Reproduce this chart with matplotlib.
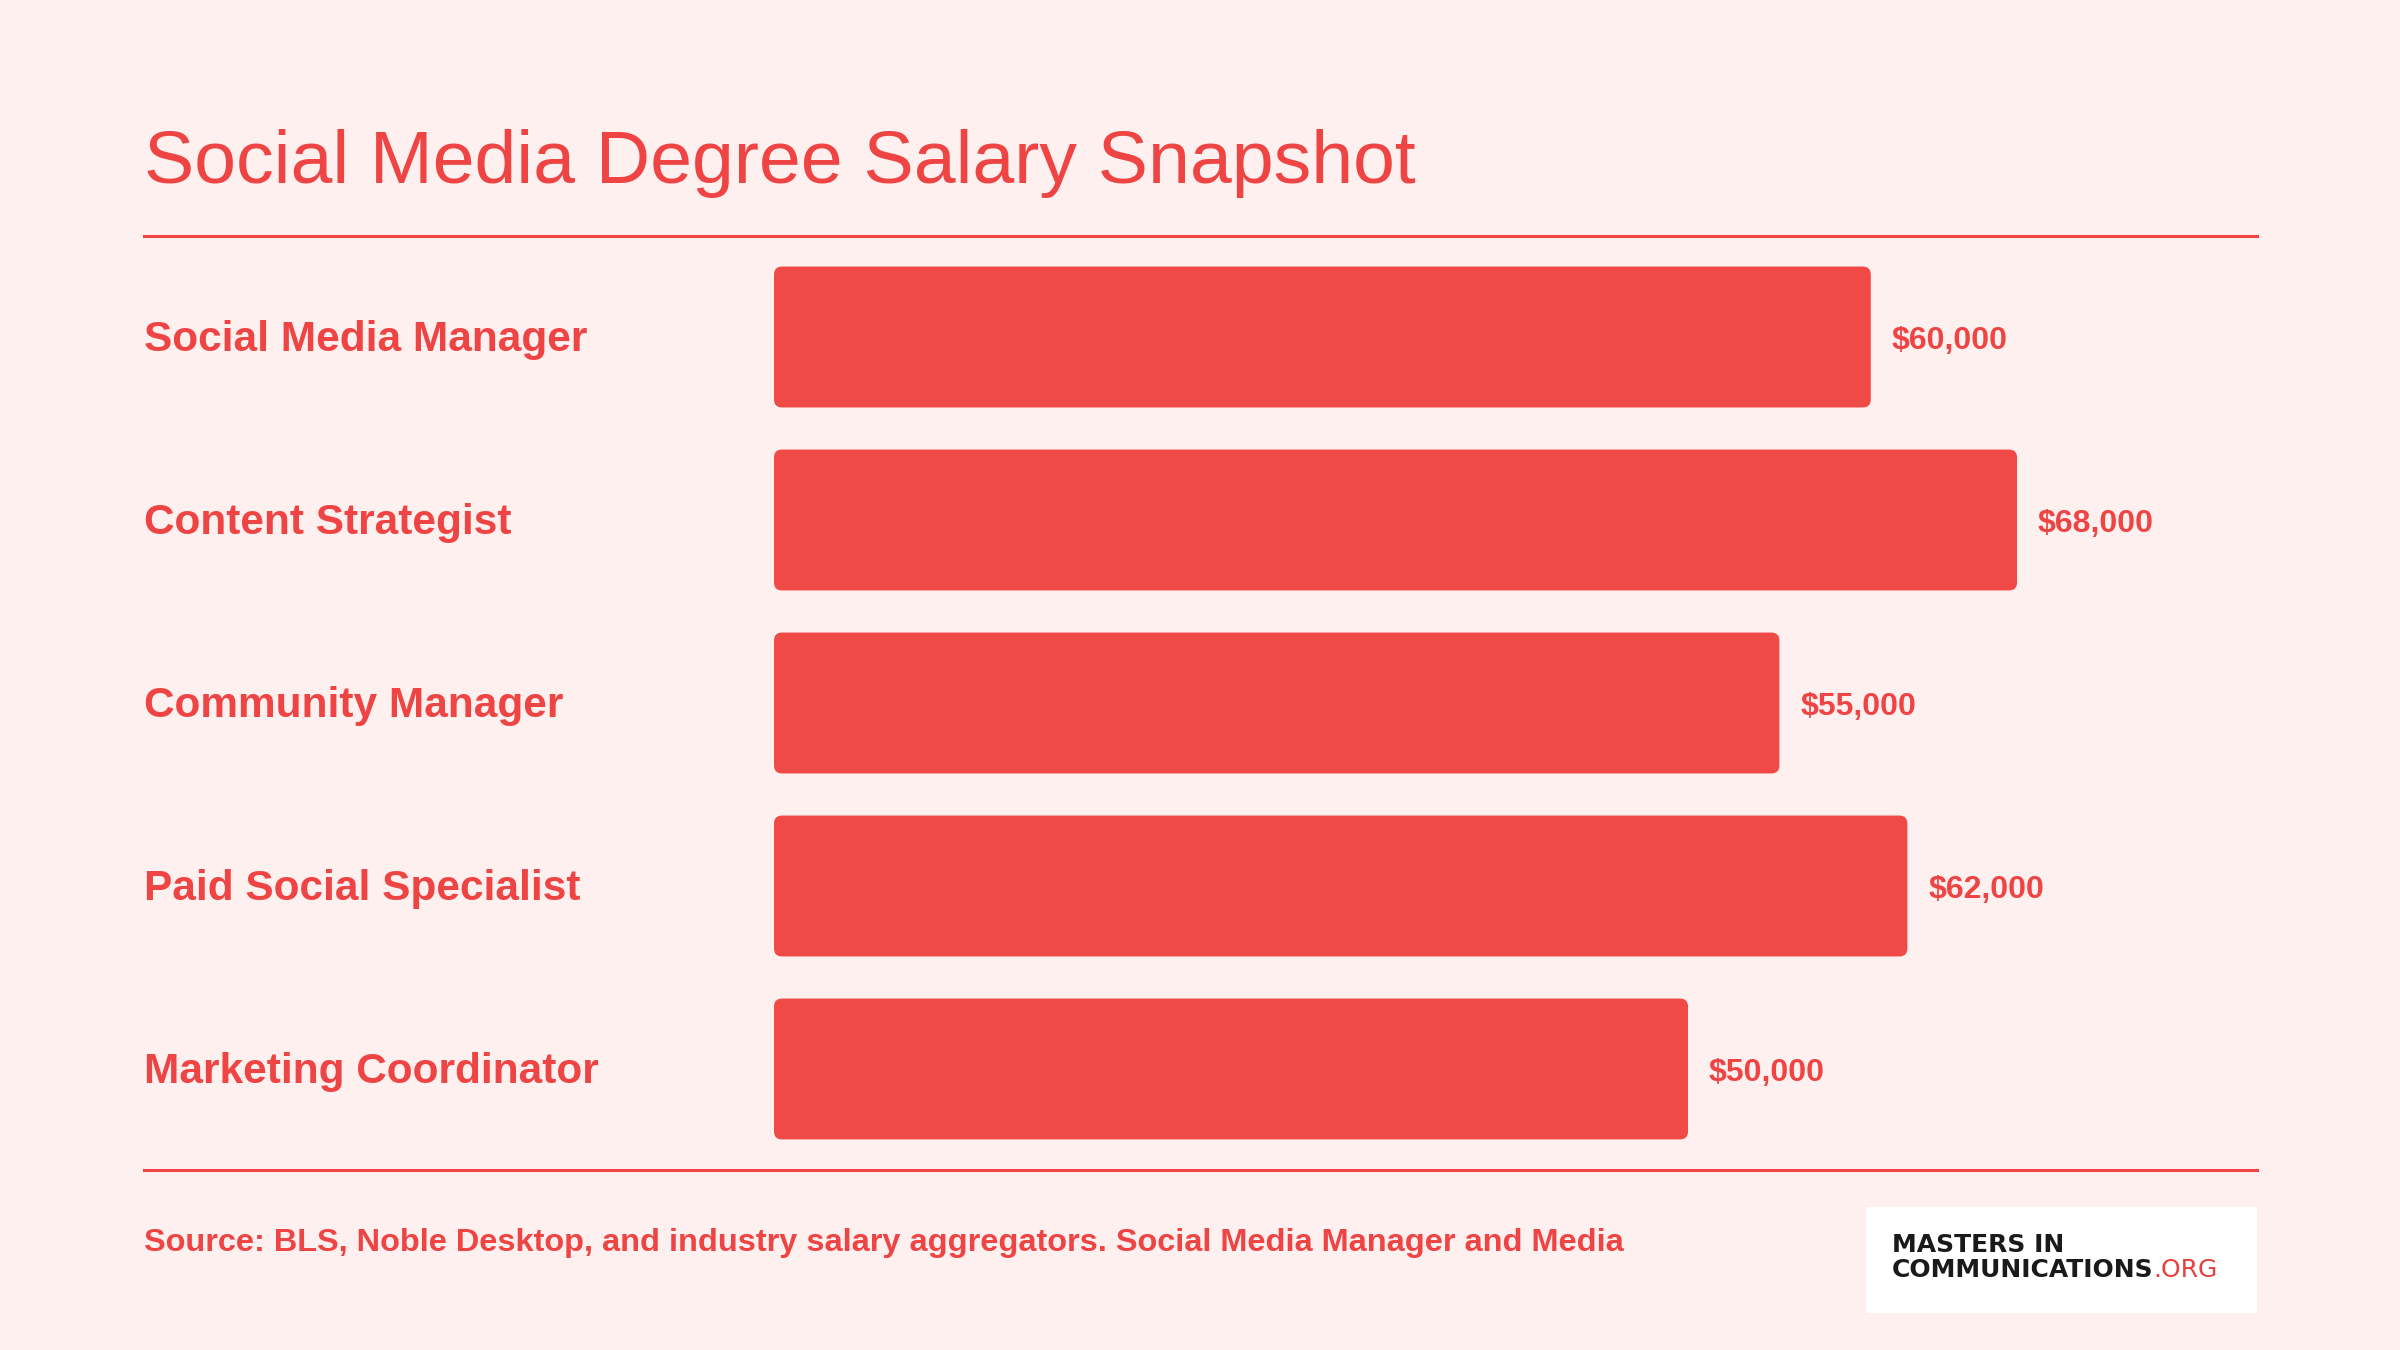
import matplotlib
matplotlib.use("Agg")
import matplotlib.pyplot as plt
from matplotlib.patches import FancyBboxPatch, Rectangle
from matplotlib.lines import Line2D
from matplotlib.transforms import blended_transform_factory

# ---- data ----
categories = ["Social Media Manager", "Content Strategist", "Community Manager",
              "Paid Social Specialist", "Marketing Coordinator"]
salaries = [60000, 68000, 55000, 62000, 50000]
value_labels = ["$60,000", "$68,000", "$55,000", "$62,000", "$50,000"]
title = "Social Media Degree Salary Snapshot"
source = "Source: BLS, Noble Desktop, and industry salary aggregators. Social Media Manager and Media"

# ---- style ----
BG = "#FFF0F0"
RED = "#F04A46"
TXT = "#EF4444"
W, H = 2400, 1350
DPI = 100
FONT = "Liberation Sans"

fig = plt.figure(figsize=(W / DPI, H / DPI), dpi=DPI, facecolor=BG)

def fx(px):
    return px / W

def fy(py):
    return 1 - py / H

# axes for bars
ax_left, ax_right = 774, 2257
ax_top, ax_bot = 236, 1170
ax = fig.add_axes([fx(ax_left), fy(ax_bot), (ax_right - ax_left) / W, (ax_bot - ax_top) / H])
ax.set_facecolor("none")
xmax = 81126
ax.set_xlim(0, xmax)
ax.set_ylim(4.552, -0.552)
for s in ax.spines.values():
    s.set_visible(False)
ax.set_xticks([])
ax.set_yticks([])

bar_h = 0.77
bars = ax.barh(range(len(categories)), salaries, height=bar_h, color=RED)

# replace with rounded bars
px_per_x = (ax_right - ax_left) / xmax
px_per_y = (ax_bot - ax_top) / (4.552 + 0.552)
r_px = 8
r_x = r_px / px_per_x
aspect = (r_px / px_per_y) / r_x
for b in bars:
    x0, y0 = b.get_x(), b.get_y()
    w, h = b.get_width(), b.get_height()
    b.set_visible(False)
    p = FancyBboxPatch((x0, y0), w, h,
                       boxstyle=f"round,pad=0,rounding_size={r_x}",
                       mutation_aspect=aspect, facecolor=RED, edgecolor="none")
    ax.add_patch(p)

# value labels (baseline ~12 px below bar centre)
for i, (v, lab) in enumerate(zip(salaries, value_labels)):
    ax.annotate(lab, (v, i), xytext=(21, -12), textcoords="offset pixels",
                ha="left", va="baseline", fontsize=23, fontweight="bold",
                color=TXT, family=FONT)

# category labels (baseline ~14 px below bar centre)
tr = blended_transform_factory(fig.transFigure, ax.transData)
for i, c in enumerate(categories):
    ax.annotate(c, (fx(144), i), xycoords=tr, xytext=(0, -14), textcoords="offset pixels",
                ha="left", va="baseline", fontsize=30.5, fontweight="bold",
                color=TXT, family=FONT)

# title
fig.text(fx(144), fy(183), title, ha="left", va="baseline",
         fontsize=54.2, color=TXT, family=FONT)

# rules
for yy in (236, 1170):
    fig.add_artist(Line2D([fx(144), fx(2257)], [fy(yy), fy(yy)],
                          color=TXT, linewidth=2.2, transform=fig.transFigure))

# source
fig.text(fx(144), fy(1251), source, ha="left", va="baseline",
         fontsize=23.4, fontweight="bold", color=TXT, family=FONT)

# logo box
fig.add_artist(Rectangle((fx(1866), fy(1313)), (2257 - 1866) / W, (1313 - 1207) / H,
                         facecolor="white", edgecolor="none", transform=fig.transFigure))
fig.text(fx(1892), fy(1252), "MASTERS IN", ha="left", va="baseline",
         fontsize=18, fontweight="heavy", color="#1a1a1a", family="DejaVu Sans")
t = fig.text(fx(1892), fy(1277), "COMMUNICATIONS", ha="left", va="baseline",
             fontsize=18, fontweight="heavy", color="#1a1a1a", family="DejaVu Sans")
fig.canvas.draw()
bb = t.get_window_extent()
fig.text(bb.x1 / W, fy(1277), ".ORG", ha="left", va="baseline",
         fontsize=18, color="#E8403C", family="DejaVu Sans")

fig.savefig("out.png", dpi=DPI, facecolor=BG)
